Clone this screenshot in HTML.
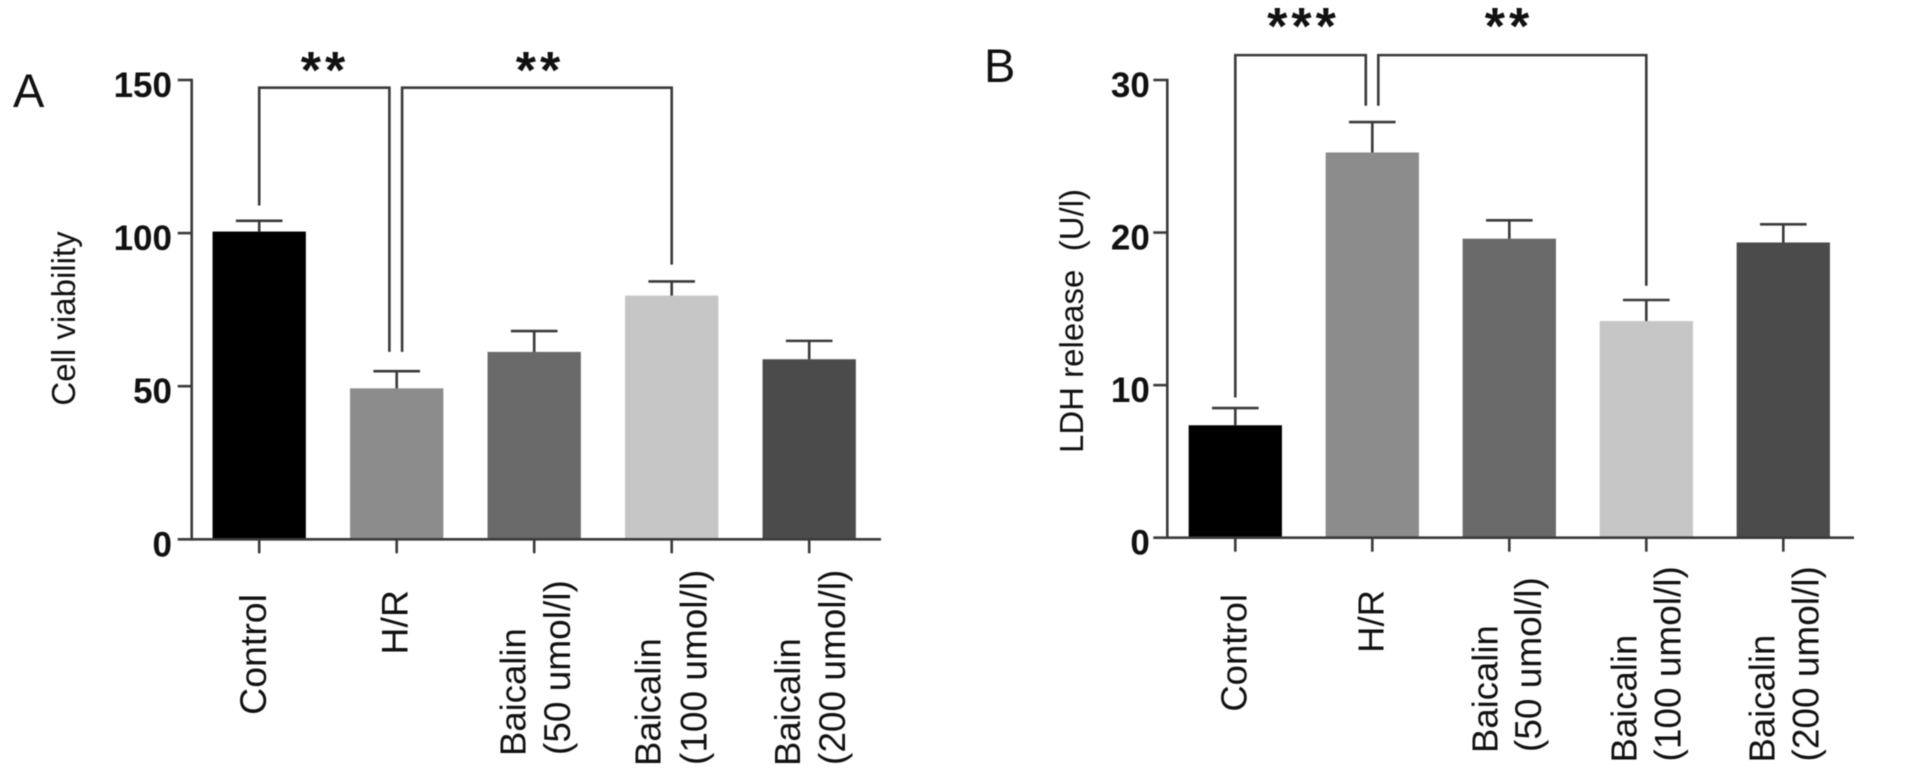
<!DOCTYPE html>
<html lang="en">
<head>
<meta charset="utf-8">
<title>Cell viability and LDH release</title>
<style>
html,body{margin:0;padding:0;background:#fff;width:1913px;height:770px;overflow:hidden}
svg{display:block;filter:blur(0.5px)}
text{font-family:"Liberation Sans",sans-serif;fill:#111;white-space:pre}
</style>
</head>
<body>
<svg id="chart" xmlns="http://www.w3.org/2000/svg" width="1913" height="770" viewBox="0 0 1913 770"></svg>
<script>
// Shared categories and colours
const categories = ['Control', 'H/R', 'Baicalin|(50 umol/l)', 'Baicalin|(100 umol/l)', 'Baicalin|(200 umol/l)'];
const barColors = ['#000000', '#8c8c8c', '#696969', '#c6c6c6', '#4b4b4b'];

// Panel A data
const viabilityValues = [100.5, 49.3, 61.2, 79.6, 58.8];
const viabilityErrorTops = [104, 54.9, 68, 84.2, 64.8];
const viabilityTicks = [0, 50, 100, 150];
const viabilityBrackets = [
  {from: 0, to: 1, level: 147.5, footFrom: 109, footTo: 61.2, stars: '**'},
  {from: 1, to: 3, level: 147.5, footFrom: 61.2, footTo: 89.7, stars: '**'}
];

// Panel B data
const ldhValues = [7.37, 25.25, 19.6, 14.2, 19.35];
const ldhErrorTops = [8.5, 27.24, 20.8, 15.58, 20.54];
const ldhTicks = [0, 10, 20, 30];
const ldhBrackets = [
  {from: 0, to: 1, level: 31.63, footFrom: 9.19, footTo: 28.31, stars: '***'},
  {from: 1, to: 3, level: 31.63, footFrom: 28.31, footTo: 16.51, stars: '**'}
];

const NS = 'http://www.w3.org/2000/svg';
const svg = document.getElementById('chart');
const INK = '#3a3a3a';

function mk(tag, attrs, text) {
  const el = document.createElementNS(NS, tag);
  for (const k in attrs) el.setAttribute(k, attrs[k]);
  if (text !== undefined) el.textContent = text;
  svg.appendChild(el);
  return el;
}
function line(x1, y1, x2, y2) {
  return mk('line', {x1, y1, x2, y2, stroke: INK, 'stroke-width': 2.6});
}
function vtext(x, y, str, size, anchor) {
  return mk('text', {
    transform: 'translate(' + x + ',' + y + ') rotate(-90)',
    'font-size': size, 'text-anchor': anchor
  }, str);
}

function drawPanel(p) {
  const yScale = v => p.y0 - (v / p.yMax) * (p.y0 - p.yTop);
  const xScale = i => p.x0 + i * p.step;

  // bars and error bars
  p.values.forEach((v, i) => {
    const cx = xScale(i);
    const topY = yScale(v);
    const errY = yScale(p.errors[i]);
    const bar = mk('rect', {x: cx - p.barW / 2, y: topY, width: p.barW, height: p.y0 - topY, fill: barColors[i]});
    
    
    const stem = line(cx, topY, cx, errY);
    
    
    const cap = line(cx - 23.3, errY, cx + 23.3, errY);
    
    
  });

  // axes
  const yAxis = line(p.axisX, p.yTop - 1.3, p.axisX, p.y0 + 1.3);
  
  
  const xAxis = line(p.axisX - 14, p.y0, p.axisRight, p.y0);
  
  

  p.ticks.forEach(t => {
    const y = yScale(t);
    if (t !== 0) {
      const tm = line(p.axisX - 14, y, p.axisX, y);
      
      
    }
    const lb = mk('text', {x: p.axisX - p.tickLabelGap, y: y + 17, 'font-size': 35, 'font-weight': 'bold', 'text-anchor': 'end', fill: '#111'}, String(t));
    
    
  });

  // category ticks and labels
  categories.forEach((c, i) => {
    const cx = xScale(i);
    const tm = line(cx, p.y0, cx, p.y0 + 14);
    
    
    const parts = c.split('|');
    const off = p.labelOffsets[i];
    if (parts.length === 1) {
      const lb = vtext(cx + off[0], off[1], parts[0], p.singleLabelSize, 'end');
      
      
    } else {
      const l1 = vtext(cx + off[0], off[2], parts[0], 36.5, 'start');
      
      
      const l2 = vtext(cx + off[1], off[2] - 1, parts[1], 37, 'start');
      
      
    }
  });

  // significance brackets
  p.brackets.forEach((b, n) => {
    const xa = xScale(b.from) + (n === 1 ? p.bracketGapRight : 0);
    const xb = xScale(b.to) + (n === 0 ? p.bracketGapLeft : 0);
    const yl = yScale(b.level);
    const path = mk('path', {
      d: 'M' + xa + ' ' + yScale(b.footFrom) + 'V' + yl + 'H' + xb + 'V' + yScale(b.footTo),
      fill: 'none', stroke: INK, 'stroke-width': 2.6
    });
    
    
    const st = mk('text', {x: p.starX[n], y: p.starY, 'font-size': 52, 'font-weight': 'bold', 'text-anchor': 'middle', 'letter-spacing': 4, fill: '#111'}, b.stars);
    
    
  });

  // axis title and panel letter
  const title = vtext(p.titleX, p.titleY, p.title, 33, 'middle');
  
  
  const letter = mk('text', {x: p.letterX, y: p.letterY, 'font-size': 47}, p.id.toUpperCase());
  
  
}

drawPanel({
  id: 'a', title: 'Cell viability', values: viabilityValues, errors: viabilityErrorTops, ticks: viabilityTicks,
  brackets: viabilityBrackets, yMax: 150, y0: 539.3, yTop: 80, axisX: 191.7, axisRight: 881,
  x0: 259.2, step: 137.5, barW: 93.3, tickLabelGap: 19.7, singleLabelSize: 37.5,
  labelOffsets: [[7, 594], [11, 590], [-8.5, 35.6, 756], [-11.3, 34.7, 766], [-9, 36, 766]],
  bracketGapLeft: -7.3, bracketGapRight: 5.4, starX: [325, 540], starY: 88, titleX: 75, titleY: 318.5, letterX: 13, letterY: 107
});
drawPanel({
  id: 'b', title: 'LDH release  (U/l)', values: ldhValues, errors: ldhErrorTops, ticks: ldhTicks,
  brackets: ldhBrackets, yMax: 30, y0: 537.7, yTop: 80, axisX: 1167.3, axisRight: 1854,
  x0: 1235.3, step: 137, barW: 93.3, tickLabelGap: 17.5, singleLabelSize: 36.5,
  labelOffsets: [[11, 594], [11, 590], [-11.8, 31.7, 753], [-10, 34, 762.5], [-9, 35, 762.5]],
  bracketGapLeft: -6.5, bracketGapRight: 6, starX: [1303.5, 1509], starY: 44, titleX: 1083, titleY: 321, letterX: 984, letterY: 82
});
</script>
</body>
</html>
